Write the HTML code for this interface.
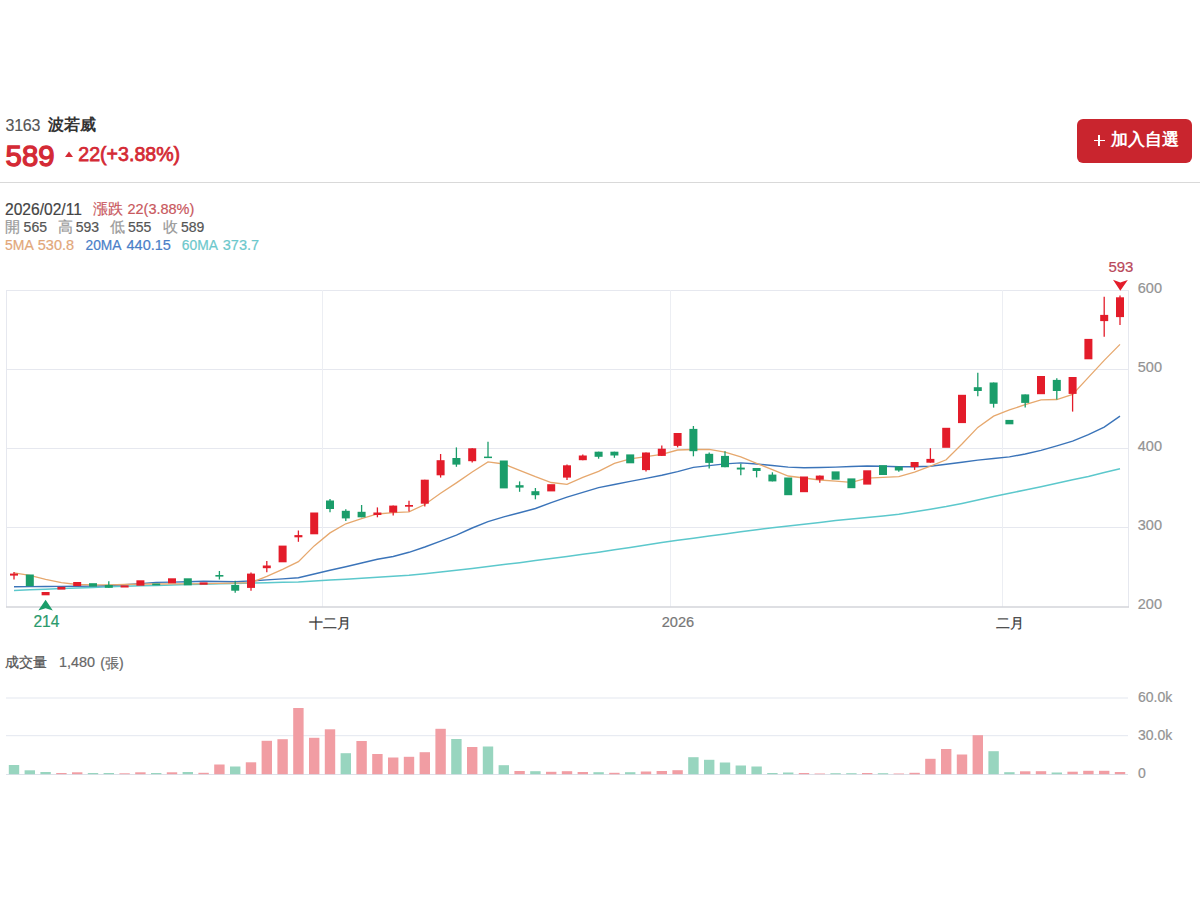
<!DOCTYPE html>
<html><head><meta charset="utf-8">
<style>
html,body{margin:0;padding:0;background:#fff;width:1200px;height:900px;overflow:hidden;font-family:"Liberation Sans",sans-serif;}
.a{position:absolute;white-space:nowrap;line-height:1;}
#chart{position:absolute;left:0;top:0;}
</style></head><body>
<div class="a" style="left:5.6px;top:118.46px;font-size:16px;color:#555;letter-spacing:-0.3px;-webkit-text-stroke:0.15px #555">3163</div>
<div class="a" style="left:48px;top:116.96px;font-size:16px;color:#333;font-weight:bold;-webkit-text-stroke:0px">波若威</div>
<div class="a" style="left:5.6px;top:141.40px;font-size:29.3px;color:#d42a35;-webkit-text-stroke:1.3px #d42a35">589</div>
<svg class="a" style="left:64px;top:151px" width="10" height="7"><polygon points="1,6 5,0.5 9,6" fill="#d42a35"/></svg>
<div class="a" style="left:78.3px;top:144.61px;font-size:19.6px;color:#d42a35;-webkit-text-stroke:0.75px #d42a35">22(+3.88%)</div>
<div class="a" style="left:1077px;top:119px;width:115px;height:43.5px;background:#c9252e;border-radius:6px"></div>
<div class="a" style="left:1093.5px;top:139.6px;width:11.5px;height:1.9px;background:#fff"></div>
<div class="a" style="left:1098.3px;top:134.8px;width:1.9px;height:11.5px;background:#fff"></div>
<div class="a" style="left:1110.5px;top:132.29px;font-size:16.9px;color:#fff;font-weight:bold;-webkit-text-stroke:0px">加入自選</div>
<div class="a" style="left:0;top:182px;width:1200px;height:1px;background:#d9d9d9"></div>
<div class="a" style="left:5px;top:201.59px;font-size:15.6px;color:#444;;-webkit-text-stroke:0.2px #444">2026/02/11</div>
<div class="a" style="left:93.4px;top:202.03px;font-size:14.5px;color:#c9585e;;-webkit-text-stroke:0.2px #c9585e">漲跌 22(3.88%)</div>
<div class="a" style="left:5px;top:219.73px;font-size:14.5px;color:#999;;-webkit-text-stroke:0.2px #999">開</div>
<div class="a" style="left:23.6px;top:220.15px;font-size:14px;color:#555;;-webkit-text-stroke:0.2px #555">565</div>
<div class="a" style="left:58px;top:219.73px;font-size:14.5px;color:#999;;-webkit-text-stroke:0.2px #999">高</div>
<div class="a" style="left:75.8px;top:220.15px;font-size:14px;color:#555;;-webkit-text-stroke:0.2px #555">593</div>
<div class="a" style="left:110px;top:219.73px;font-size:14.5px;color:#999;;-webkit-text-stroke:0.2px #999">低</div>
<div class="a" style="left:128px;top:220.15px;font-size:14px;color:#555;;-webkit-text-stroke:0.2px #555">555</div>
<div class="a" style="left:163px;top:219.73px;font-size:14.5px;color:#999;;-webkit-text-stroke:0.2px #999">收</div>
<div class="a" style="left:181px;top:220.15px;font-size:14px;color:#555;;-webkit-text-stroke:0.2px #555">589</div>
<div class="a" style="left:5px;top:238.35px;font-size:14px;color:#e2a77a;;-webkit-text-stroke:0.2px #e2a77a">5MA</div>
<div class="a" style="left:37.8px;top:237.93px;font-size:14.5px;color:#e2a77a;;-webkit-text-stroke:0.2px #e2a77a">530.8</div>
<div class="a" style="left:85.5px;top:238.52px;font-size:13.8px;color:#4a80c8;;-webkit-text-stroke:0.2px #4a80c8">20MA</div>
<div class="a" style="left:126.5px;top:237.93px;font-size:14.5px;color:#4a80c8;;-webkit-text-stroke:0.2px #4a80c8">440.15</div>
<div class="a" style="left:181.8px;top:238.52px;font-size:13.8px;color:#6cc8cc;;-webkit-text-stroke:0.2px #6cc8cc">60MA</div>
<div class="a" style="left:222.8px;top:237.93px;font-size:14.5px;color:#6cc8cc;;-webkit-text-stroke:0.2px #6cc8cc">373.7</div>
<svg id="chart" width="1200" height="900">
<line x1="6.5" y1="290.5" x2="1128" y2="290.5" stroke="#e6e8ef" stroke-width="1"/>
<line x1="6.5" y1="369.5" x2="1128" y2="369.5" stroke="#e6e8ef" stroke-width="1"/>
<line x1="6.5" y1="448.5" x2="1128" y2="448.5" stroke="#e6e8ef" stroke-width="1"/>
<line x1="6.5" y1="527.5" x2="1128" y2="527.5" stroke="#e6e8ef" stroke-width="1"/>
<line x1="322.5" y1="290" x2="322.5" y2="607" stroke="#eceef3" stroke-width="1"/>
<line x1="670.5" y1="290" x2="670.5" y2="607" stroke="#eceef3" stroke-width="1"/>
<line x1="1002.5" y1="290" x2="1002.5" y2="607" stroke="#eceef3" stroke-width="1"/>
<line x1="6.5" y1="290" x2="6.5" y2="607" stroke="#e6e8ef" stroke-width="1"/>
<line x1="1128.5" y1="290" x2="1128.5" y2="607" stroke="#e6e8ef" stroke-width="1"/>
<line x1="6" y1="607" x2="1129" y2="607" stroke="#d3d5da" stroke-width="1.5"/>
<polyline points="14.0,590.5 29.8,589.8 45.6,589.2 61.4,588.5 77.2,588.0 93.0,587.4 108.8,586.8 124.6,586.3 140.4,585.8 156.2,585.4 172.0,585.0 187.8,584.6 203.6,584.2 219.4,583.8 235.2,583.4 251.0,583.1 266.8,582.7 282.6,582.3 298.4,581.9 314.2,581.1 330.0,580.1 345.8,579.2 361.6,578.3 377.4,577.3 393.2,576.3 409.0,575.2 424.8,573.7 440.6,572.1 456.4,570.2 472.2,568.4 488.0,566.5 503.8,564.6 519.6,562.7 535.4,560.6 551.2,558.5 567.0,556.4 582.8,554.3 598.6,552.2 614.4,549.8 630.2,547.4 646.0,545.0 661.8,542.6 677.6,540.3 693.4,538.2 709.2,536.0 725.0,533.9 740.8,531.8 756.6,529.7 772.4,527.8 788.2,526.0 804.0,524.2 819.8,522.4 835.6,520.6 851.4,519.0 867.2,517.4 883.0,515.9 898.8,514.3 914.6,511.8 930.4,509.2 946.2,506.6 962.0,503.4 977.8,500.0 993.6,496.6 1009.4,493.2 1025.2,490.0 1041.0,486.7 1056.8,483.3 1072.6,479.8 1088.4,476.4 1104.2,472.6 1120.0,468.8" fill="none" stroke="#5cc8cc" stroke-width="1.5"/>
<polyline points="14.0,586.7 29.8,586.6 45.6,586.5 61.4,586.4 77.2,586.2 93.0,586.1 108.8,585.5 124.6,584.8 140.4,583.6 156.2,582.4 172.0,582.1 187.8,581.7 203.6,581.3 219.4,581.5 235.2,581.7 251.0,580.9 266.8,579.9 282.6,578.9 298.4,577.7 314.2,574.0 330.0,570.3 345.8,566.7 361.6,563.0 377.4,559.3 393.2,556.5 409.0,552.3 424.8,547.0 440.6,541.1 456.4,535.1 472.2,528.0 488.0,521.7 503.8,516.9 519.6,512.8 535.4,508.5 551.2,502.6 567.0,497.2 582.8,492.4 598.6,487.6 614.4,484.5 630.2,481.4 646.0,478.4 661.8,475.3 677.6,471.6 693.4,467.4 709.2,465.6 725.0,463.9 740.8,462.9 756.6,464.0 772.4,465.5 788.2,467.1 804.0,467.8 819.8,467.5 835.6,467.1 851.4,466.5 867.2,466.0 883.0,466.3 898.8,466.7 914.6,466.8 930.4,466.3 946.2,464.2 962.0,462.2 977.8,460.1 993.6,458.5 1009.4,456.9 1025.2,454.0 1041.0,450.4 1056.8,445.8 1072.6,441.2 1088.4,434.7 1104.2,427.1 1120.0,416.2" fill="none" stroke="#3b74b9" stroke-width="1.4"/>
<polyline points="14.0,572.8 29.8,575.4 45.6,579.3 61.4,582.7 77.2,584.5 93.0,584.9 108.8,584.8 124.6,584.5 140.4,584.2 156.2,584.0 172.0,583.9 187.8,583.8 203.6,583.6 219.4,583.4 235.2,583.2 251.0,582.7 266.8,576.3 282.6,569.3 298.4,561.6 314.2,545.9 330.0,532.9 345.8,523.8 361.6,518.6 377.4,514.0 393.2,512.7 409.0,511.8 424.8,504.5 440.6,493.3 456.4,482.9 472.2,472.0 488.0,461.9 503.8,464.0 519.6,470.4 535.4,476.7 551.2,482.5 567.0,484.3 582.8,477.4 598.6,471.3 614.4,463.4 630.2,458.8 646.0,456.6 661.8,454.3 677.6,450.0 693.4,449.5 709.2,449.3 725.0,452.1 740.8,456.8 756.6,463.3 772.4,469.7 788.2,476.0 804.0,478.0 819.8,480.0 835.6,481.2 851.4,482.4 867.2,478.2 883.0,477.4 898.8,476.6 914.6,472.1 930.4,466.2 946.2,459.8 962.0,444.0 977.8,427.4 993.6,416.1 1009.4,409.9 1025.2,404.7 1041.0,399.8 1056.8,399.5 1072.6,394.4 1088.4,377.4 1104.2,360.4 1120.0,344.4" fill="none" stroke="#e6a86e" stroke-width="1.3"/>
<line x1="14.0" y1="572.0" x2="14.0" y2="579.5" stroke="#e31c2a" stroke-width="1.3"/>
<rect x="10.0" y="573.6" width="8" height="2.0" fill="#e31c2a"/>
<rect x="25.8" y="574.5" width="8" height="11.7" fill="#1a9d6a"/>
<rect x="41.6" y="592.0" width="8" height="3.3" fill="#e31c2a"/>
<rect x="57.4" y="586.8" width="8" height="2.8" fill="#e31c2a"/>
<rect x="73.2" y="582.0" width="8" height="4.1" fill="#e31c2a"/>
<rect x="89.0" y="583.2" width="8" height="3.4" fill="#1a9d6a"/>
<line x1="108.8" y1="581.3" x2="108.8" y2="587.8" stroke="#1a9d6a" stroke-width="1.3"/>
<rect x="104.8" y="585.0" width="8" height="2.8" fill="#1a9d6a"/>
<rect x="120.6" y="585.4" width="8" height="2.1" fill="#e31c2a"/>
<rect x="136.4" y="580.3" width="8" height="5.4" fill="#e31c2a"/>
<rect x="152.2" y="583.5" width="8" height="1.8" fill="#1a9d6a"/>
<rect x="168.0" y="578.3" width="8" height="5.0" fill="#e31c2a"/>
<rect x="183.8" y="578.3" width="8" height="7.0" fill="#1a9d6a"/>
<rect x="199.6" y="582.4" width="8" height="2.3" fill="#e31c2a"/>
<line x1="219.4" y1="571.0" x2="219.4" y2="579.5" stroke="#1a9d6a" stroke-width="1.3"/>
<rect x="215.4" y="575.0" width="8" height="1.6" fill="#1a9d6a"/>
<line x1="235.2" y1="580.8" x2="235.2" y2="592.8" stroke="#1a9d6a" stroke-width="1.3"/>
<rect x="231.2" y="585.0" width="8" height="5.7" fill="#1a9d6a"/>
<line x1="251.0" y1="572.5" x2="251.0" y2="590.8" stroke="#e31c2a" stroke-width="1.3"/>
<rect x="247.0" y="573.6" width="8" height="14.3" fill="#e31c2a"/>
<line x1="266.8" y1="561.0" x2="266.8" y2="572.3" stroke="#e31c2a" stroke-width="1.3"/>
<rect x="262.8" y="565.5" width="8" height="2.7" fill="#e31c2a"/>
<rect x="278.6" y="545.6" width="8" height="16.7" fill="#e31c2a"/>
<line x1="298.4" y1="530.5" x2="298.4" y2="541.8" stroke="#e31c2a" stroke-width="1.3"/>
<rect x="294.4" y="535.1" width="8" height="2.2" fill="#e31c2a"/>
<rect x="310.2" y="512.5" width="8" height="21.8" fill="#e31c2a"/>
<line x1="330.0" y1="499.0" x2="330.0" y2="512.2" stroke="#1a9d6a" stroke-width="1.3"/>
<rect x="326.0" y="500.5" width="8" height="8.5" fill="#1a9d6a"/>
<line x1="345.8" y1="509.3" x2="345.8" y2="521.0" stroke="#1a9d6a" stroke-width="1.3"/>
<rect x="341.8" y="510.8" width="8" height="7.6" fill="#1a9d6a"/>
<line x1="361.6" y1="505.0" x2="361.6" y2="517.3" stroke="#1a9d6a" stroke-width="1.3"/>
<rect x="357.6" y="511.8" width="8" height="5.5" fill="#1a9d6a"/>
<line x1="377.4" y1="507.4" x2="377.4" y2="517.3" stroke="#e31c2a" stroke-width="1.3"/>
<rect x="373.4" y="512.5" width="8" height="2.5" fill="#e31c2a"/>
<line x1="393.2" y1="505.6" x2="393.2" y2="515.4" stroke="#e31c2a" stroke-width="1.3"/>
<rect x="389.2" y="505.6" width="8" height="6.9" fill="#e31c2a"/>
<line x1="409.0" y1="500.8" x2="409.0" y2="511.6" stroke="#e31c2a" stroke-width="1.3"/>
<rect x="405.0" y="505.0" width="8" height="1.7" fill="#e31c2a"/>
<line x1="424.8" y1="479.7" x2="424.8" y2="506.5" stroke="#e31c2a" stroke-width="1.3"/>
<rect x="420.8" y="479.7" width="8" height="24.0" fill="#e31c2a"/>
<line x1="440.6" y1="454.0" x2="440.6" y2="477.6" stroke="#e31c2a" stroke-width="1.3"/>
<rect x="436.6" y="460.2" width="8" height="15.1" fill="#e31c2a"/>
<line x1="456.4" y1="447.4" x2="456.4" y2="466.8" stroke="#1a9d6a" stroke-width="1.3"/>
<rect x="452.4" y="458.0" width="8" height="6.6" fill="#1a9d6a"/>
<line x1="472.2" y1="448.3" x2="472.2" y2="462.5" stroke="#e31c2a" stroke-width="1.3"/>
<rect x="468.2" y="448.3" width="8" height="12.9" fill="#e31c2a"/>
<line x1="488.0" y1="441.7" x2="488.0" y2="458.0" stroke="#1a9d6a" stroke-width="1.3"/>
<rect x="484.0" y="456.6" width="8" height="1.5" fill="#1a9d6a"/>
<rect x="499.8" y="460.5" width="8" height="27.9" fill="#1a9d6a"/>
<line x1="519.6" y1="481.4" x2="519.6" y2="491.8" stroke="#1a9d6a" stroke-width="1.3"/>
<rect x="515.6" y="485.2" width="8" height="2.4" fill="#1a9d6a"/>
<line x1="535.4" y1="488.0" x2="535.4" y2="499.3" stroke="#1a9d6a" stroke-width="1.3"/>
<rect x="531.4" y="491.2" width="8" height="4.0" fill="#1a9d6a"/>
<rect x="547.2" y="484.2" width="8" height="7.2" fill="#e31c2a"/>
<line x1="567.0" y1="464.4" x2="567.0" y2="480.0" stroke="#e31c2a" stroke-width="1.3"/>
<rect x="563.0" y="465.3" width="8" height="12.3" fill="#e31c2a"/>
<line x1="582.8" y1="454.4" x2="582.8" y2="460.2" stroke="#e31c2a" stroke-width="1.3"/>
<rect x="578.8" y="455.5" width="8" height="4.7" fill="#e31c2a"/>
<line x1="598.6" y1="451.7" x2="598.6" y2="458.7" stroke="#1a9d6a" stroke-width="1.3"/>
<rect x="594.6" y="451.7" width="8" height="5.1" fill="#1a9d6a"/>
<line x1="614.4" y1="451.7" x2="614.4" y2="457.8" stroke="#1a9d6a" stroke-width="1.3"/>
<rect x="610.4" y="451.7" width="8" height="3.8" fill="#1a9d6a"/>
<rect x="626.2" y="454.4" width="8" height="8.9" fill="#1a9d6a"/>
<line x1="646.0" y1="452.5" x2="646.0" y2="471.4" stroke="#e31c2a" stroke-width="1.3"/>
<rect x="642.0" y="452.5" width="8" height="17.6" fill="#e31c2a"/>
<line x1="661.8" y1="445.5" x2="661.8" y2="455.9" stroke="#e31c2a" stroke-width="1.3"/>
<rect x="657.8" y="448.7" width="8" height="7.2" fill="#e31c2a"/>
<line x1="677.6" y1="433.0" x2="677.6" y2="447.4" stroke="#e31c2a" stroke-width="1.3"/>
<rect x="673.6" y="433.0" width="8" height="12.9" fill="#e31c2a"/>
<line x1="693.4" y1="426.0" x2="693.4" y2="456.3" stroke="#1a9d6a" stroke-width="1.3"/>
<rect x="689.4" y="428.9" width="8" height="22.3" fill="#1a9d6a"/>
<line x1="709.2" y1="452.5" x2="709.2" y2="468.6" stroke="#1a9d6a" stroke-width="1.3"/>
<rect x="705.2" y="453.8" width="8" height="9.1" fill="#1a9d6a"/>
<line x1="725.0" y1="451.2" x2="725.0" y2="467.2" stroke="#1a9d6a" stroke-width="1.3"/>
<rect x="721.0" y="455.9" width="8" height="11.3" fill="#1a9d6a"/>
<line x1="740.8" y1="463.8" x2="740.8" y2="475.2" stroke="#1a9d6a" stroke-width="1.3"/>
<rect x="736.8" y="467.6" width="8" height="1.9" fill="#1a9d6a"/>
<line x1="756.6" y1="468.0" x2="756.6" y2="477.4" stroke="#1a9d6a" stroke-width="1.3"/>
<rect x="752.6" y="468.0" width="8" height="3.0" fill="#1a9d6a"/>
<line x1="772.4" y1="472.3" x2="772.4" y2="481.4" stroke="#1a9d6a" stroke-width="1.3"/>
<rect x="768.4" y="474.6" width="8" height="6.8" fill="#1a9d6a"/>
<rect x="784.2" y="477.5" width="8" height="17.7" fill="#1a9d6a"/>
<rect x="800.0" y="476.5" width="8" height="15.7" fill="#e31c2a"/>
<line x1="819.8" y1="475.6" x2="819.8" y2="482.7" stroke="#e31c2a" stroke-width="1.3"/>
<rect x="815.8" y="475.6" width="8" height="4.1" fill="#e31c2a"/>
<rect x="831.6" y="471.4" width="8" height="8.3" fill="#1a9d6a"/>
<rect x="847.4" y="478.4" width="8" height="9.8" fill="#1a9d6a"/>
<rect x="863.2" y="470.3" width="8" height="14.3" fill="#e31c2a"/>
<rect x="879.0" y="465.2" width="8" height="9.8" fill="#1a9d6a"/>
<line x1="898.8" y1="466.5" x2="898.8" y2="471.8" stroke="#1a9d6a" stroke-width="1.3"/>
<rect x="894.8" y="466.5" width="8" height="4.0" fill="#1a9d6a"/>
<line x1="914.6" y1="462.0" x2="914.6" y2="469.9" stroke="#e31c2a" stroke-width="1.3"/>
<rect x="910.6" y="462.0" width="8" height="5.1" fill="#e31c2a"/>
<line x1="930.4" y1="448.2" x2="930.4" y2="462.7" stroke="#e31c2a" stroke-width="1.3"/>
<rect x="926.4" y="458.9" width="8" height="3.8" fill="#e31c2a"/>
<rect x="942.2" y="427.8" width="8" height="20.0" fill="#e31c2a"/>
<rect x="958.0" y="394.8" width="8" height="28.3" fill="#e31c2a"/>
<line x1="977.8" y1="372.7" x2="977.8" y2="396.3" stroke="#1a9d6a" stroke-width="1.3"/>
<rect x="973.8" y="387.2" width="8" height="3.8" fill="#1a9d6a"/>
<line x1="993.6" y1="382.5" x2="993.6" y2="407.6" stroke="#1a9d6a" stroke-width="1.3"/>
<rect x="989.6" y="382.5" width="8" height="21.3" fill="#1a9d6a"/>
<rect x="1005.4" y="419.9" width="8" height="4.4" fill="#1a9d6a"/>
<line x1="1025.2" y1="394.4" x2="1025.2" y2="407.6" stroke="#1a9d6a" stroke-width="1.3"/>
<rect x="1021.2" y="394.4" width="8" height="8.5" fill="#1a9d6a"/>
<rect x="1037.0" y="376.0" width="8" height="18.2" fill="#e31c2a"/>
<line x1="1056.8" y1="378.3" x2="1056.8" y2="399.5" stroke="#1a9d6a" stroke-width="1.3"/>
<rect x="1052.8" y="379.9" width="8" height="11.1" fill="#1a9d6a"/>
<line x1="1072.6" y1="377.0" x2="1072.6" y2="411.6" stroke="#e31c2a" stroke-width="1.3"/>
<rect x="1068.6" y="377.0" width="8" height="16.9" fill="#e31c2a"/>
<rect x="1084.4" y="338.9" width="8" height="20.4" fill="#e31c2a"/>
<line x1="1104.2" y1="296.7" x2="1104.2" y2="336.7" stroke="#e31c2a" stroke-width="1.3"/>
<rect x="1100.2" y="314.9" width="8" height="6.2" fill="#e31c2a"/>
<line x1="1120.0" y1="295.6" x2="1120.0" y2="325.1" stroke="#e31c2a" stroke-width="1.3"/>
<rect x="1116.0" y="297.3" width="8" height="19.8" fill="#e31c2a"/>
<polygon points="1113,279.7 1120.3,282.6 1127.8,280 1120.3,290.8" fill="#e31c2a"/>
<polygon points="45.6,599.7 52.8,610.6 45.6,608.3 38.3,610.6" fill="#1a9d6a"/>
<line x1="6" y1="698" x2="1128" y2="698" stroke="#e3e7ef" stroke-width="1"/>
<line x1="6" y1="735.7" x2="1128" y2="735.7" stroke="#e3e7ef" stroke-width="1"/>
<line x1="6" y1="774.5" x2="1128" y2="774.5" stroke="#dde1ea" stroke-width="1"/>
<rect x="8.8" y="765.0" width="10.4" height="9.2" fill="#98d5bf"/>
<rect x="24.6" y="770.3" width="10.4" height="3.9" fill="#98d5bf"/>
<rect x="40.4" y="772.0" width="10.4" height="2.2" fill="#98d5bf"/>
<rect x="56.2" y="773.0" width="10.4" height="1.2" fill="#f19da3"/>
<rect x="72.0" y="772.3" width="10.4" height="1.9" fill="#f19da3"/>
<rect x="87.8" y="773.0" width="10.4" height="1.2" fill="#98d5bf"/>
<rect x="103.6" y="773.0" width="10.4" height="1.2" fill="#98d5bf"/>
<rect x="119.4" y="773.3" width="10.4" height="0.9" fill="#f19da3"/>
<rect x="135.2" y="772.3" width="10.4" height="1.9" fill="#f19da3"/>
<rect x="151.0" y="773.0" width="10.4" height="1.2" fill="#98d5bf"/>
<rect x="166.8" y="772.3" width="10.4" height="1.9" fill="#f19da3"/>
<rect x="182.6" y="772.0" width="10.4" height="2.2" fill="#98d5bf"/>
<rect x="198.4" y="772.8" width="10.4" height="1.4" fill="#f19da3"/>
<rect x="214.2" y="764.5" width="10.4" height="9.7" fill="#f19da3"/>
<rect x="230.0" y="766.5" width="10.4" height="7.7" fill="#98d5bf"/>
<rect x="245.8" y="762.3" width="10.4" height="11.9" fill="#f19da3"/>
<rect x="261.6" y="740.8" width="10.4" height="33.4" fill="#f19da3"/>
<rect x="277.4" y="739.2" width="10.4" height="35.0" fill="#f19da3"/>
<rect x="293.2" y="708.0" width="10.4" height="66.2" fill="#f19da3"/>
<rect x="309.0" y="737.8" width="10.4" height="36.4" fill="#f19da3"/>
<rect x="324.8" y="729.3" width="10.4" height="44.9" fill="#f19da3"/>
<rect x="340.6" y="753.2" width="10.4" height="21.0" fill="#98d5bf"/>
<rect x="356.4" y="741.0" width="10.4" height="33.2" fill="#f19da3"/>
<rect x="372.2" y="754.0" width="10.4" height="20.2" fill="#f19da3"/>
<rect x="388.0" y="757.5" width="10.4" height="16.7" fill="#f19da3"/>
<rect x="403.8" y="756.8" width="10.4" height="17.5" fill="#f19da3"/>
<rect x="419.6" y="752.2" width="10.4" height="22.0" fill="#f19da3"/>
<rect x="435.4" y="728.8" width="10.4" height="45.5" fill="#f19da3"/>
<rect x="451.2" y="739.0" width="10.4" height="35.2" fill="#98d5bf"/>
<rect x="467.0" y="747.0" width="10.4" height="27.2" fill="#f19da3"/>
<rect x="482.8" y="746.5" width="10.4" height="27.7" fill="#98d5bf"/>
<rect x="498.6" y="765.2" width="10.4" height="9.0" fill="#98d5bf"/>
<rect x="514.4" y="771.0" width="10.4" height="3.2" fill="#f19da3"/>
<rect x="530.2" y="771.2" width="10.4" height="3.0" fill="#98d5bf"/>
<rect x="546.0" y="771.8" width="10.4" height="2.5" fill="#f19da3"/>
<rect x="561.8" y="771.2" width="10.4" height="3.0" fill="#f19da3"/>
<rect x="577.6" y="772.0" width="10.4" height="2.2" fill="#f19da3"/>
<rect x="593.4" y="772.2" width="10.4" height="2.0" fill="#98d5bf"/>
<rect x="609.2" y="772.8" width="10.4" height="1.5" fill="#f19da3"/>
<rect x="625.0" y="772.2" width="10.4" height="2.0" fill="#98d5bf"/>
<rect x="640.8" y="771.5" width="10.4" height="2.7" fill="#f19da3"/>
<rect x="656.6" y="771.0" width="10.4" height="3.2" fill="#f19da3"/>
<rect x="672.4" y="770.2" width="10.4" height="4.0" fill="#f19da3"/>
<rect x="688.2" y="757.2" width="10.4" height="17.0" fill="#98d5bf"/>
<rect x="704.0" y="759.8" width="10.4" height="14.5" fill="#98d5bf"/>
<rect x="719.8" y="762.5" width="10.4" height="11.7" fill="#98d5bf"/>
<rect x="735.6" y="765.5" width="10.4" height="8.7" fill="#98d5bf"/>
<rect x="751.4" y="766.5" width="10.4" height="7.7" fill="#98d5bf"/>
<rect x="767.2" y="773.0" width="10.4" height="1.2" fill="#98d5bf"/>
<rect x="783.0" y="772.5" width="10.4" height="1.7" fill="#98d5bf"/>
<rect x="798.8" y="773.0" width="10.4" height="1.2" fill="#f19da3"/>
<rect x="814.6" y="773.5" width="10.4" height="0.7" fill="#f19da3"/>
<rect x="830.4" y="773.2" width="10.4" height="1.0" fill="#98d5bf"/>
<rect x="846.2" y="773.2" width="10.4" height="1.0" fill="#98d5bf"/>
<rect x="862.0" y="773.0" width="10.4" height="1.2" fill="#f19da3"/>
<rect x="877.8" y="773.2" width="10.4" height="1.0" fill="#98d5bf"/>
<rect x="893.6" y="773.5" width="10.4" height="0.7" fill="#f19da3"/>
<rect x="909.4" y="772.8" width="10.4" height="1.5" fill="#f19da3"/>
<rect x="925.2" y="758.8" width="10.4" height="15.5" fill="#f19da3"/>
<rect x="941.0" y="749.0" width="10.4" height="25.2" fill="#f19da3"/>
<rect x="956.8" y="754.5" width="10.4" height="19.7" fill="#f19da3"/>
<rect x="972.6" y="735.2" width="10.4" height="39.0" fill="#f19da3"/>
<rect x="988.4" y="751.2" width="10.4" height="23.0" fill="#98d5bf"/>
<rect x="1004.2" y="772.2" width="10.4" height="2.0" fill="#98d5bf"/>
<rect x="1020.0" y="771.3" width="10.4" height="2.9" fill="#f19da3"/>
<rect x="1035.8" y="771.2" width="10.4" height="3.0" fill="#f19da3"/>
<rect x="1051.6" y="772.5" width="10.4" height="1.7" fill="#98d5bf"/>
<rect x="1067.4" y="771.7" width="10.4" height="2.5" fill="#f19da3"/>
<rect x="1083.2" y="770.8" width="10.4" height="3.4" fill="#f19da3"/>
<rect x="1099.0" y="770.8" width="10.4" height="3.4" fill="#f19da3"/>
<rect x="1114.8" y="772.0" width="10.4" height="2.2" fill="#f19da3"/>
</svg>
<div class="a" style="left:1137.8px;top:280.73px;font-size:14.5px;color:#939393;;-webkit-text-stroke:0.2px #939393">600</div>
<div class="a" style="left:1137.8px;top:359.73px;font-size:14.5px;color:#939393;;-webkit-text-stroke:0.2px #939393">500</div>
<div class="a" style="left:1137.8px;top:438.73px;font-size:14.5px;color:#939393;;-webkit-text-stroke:0.2px #939393">400</div>
<div class="a" style="left:1137.8px;top:517.73px;font-size:14.5px;color:#939393;;-webkit-text-stroke:0.2px #939393">300</div>
<div class="a" style="left:1137.8px;top:597.23px;font-size:14.5px;color:#939393;;-webkit-text-stroke:0.2px #939393">200</div>
<div class="a" style="left:1108.4px;top:258.50px;font-size:15px;color:#b9485a;;-webkit-text-stroke:0.2px #b9485a">593</div>
<div class="a" style="left:33.4px;top:614.19px;font-size:15.6px;color:#2a9a6c;;-webkit-text-stroke:0.2px #2a9a6c">214</div>
<div class="a" style="left:309px;top:616.15px;font-size:14px;color:#333;;-webkit-text-stroke:0.2px #333">十二月</div>
<div class="a" style="left:661.7px;top:615.14px;font-size:14.6px;color:#777;;-webkit-text-stroke:0.2px #777">2026</div>
<div class="a" style="left:996px;top:616.15px;font-size:14px;color:#333;;-webkit-text-stroke:0.2px #333">二月</div>
<div class="a" style="left:5px;top:655.48px;font-size:14.2px;color:#555;;-webkit-text-stroke:0.2px #555">成交量</div>
<div class="a" style="left:59px;top:655.31px;font-size:14.4px;color:#666;;-webkit-text-stroke:0.2px #666">1,480</div>
<div class="a" style="left:100.3px;top:655.65px;font-size:14px;color:#666;;-webkit-text-stroke:0.2px #666">(張)</div>
<div class="a" style="left:1138px;top:689.85px;font-size:14px;color:#939393;;-webkit-text-stroke:0.2px #939393">60.0k</div>
<div class="a" style="left:1138px;top:727.65px;font-size:14px;color:#939393;;-webkit-text-stroke:0.2px #939393">30.0k</div>
<div class="a" style="left:1138px;top:766.45px;font-size:14px;color:#939393;;-webkit-text-stroke:0.2px #939393">0</div>
</body></html>
